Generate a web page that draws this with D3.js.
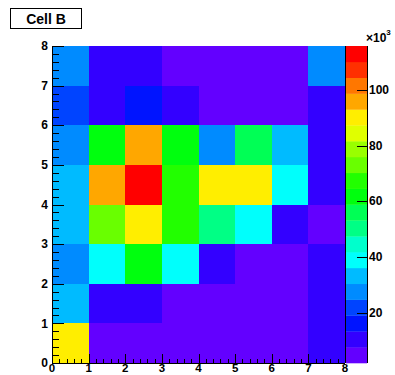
<!DOCTYPE html>
<html>
<head>
<meta charset="utf-8">
<script src="https://cdn.jsdelivr.net/npm/d3@7"></script>
<style>
  html, body { margin: 0; padding: 0; background: #fff; }
  svg { display: block; }
  text { font-family: "Liberation Sans", Arial, Helvetica, sans-serif; font-weight: bold; fill: #000; }
</style>
</head>
<body>
<script>
// ---- data (bin contents in units of 10^3) ----
const title = "Cell B";
const xBins = [0, 1, 2, 3, 4, 5, 6, 7];           // lower edges of x bins
const yBins = [0, 1, 2, 3, 4, 5, 6, 7];           // lower edges of y bins
const xTickLabels = ["0", "1", "2", "3", "4", "5", "6", "7", "8"];
const yTickLabels = ["0", "1", "2", "3", "4", "5", "6", "7", "8"];
const zTickValues = [20, 40, 60, 80, 100];
const zExponentLabel = "\u00d710";
const zExponent = "3";
// rows listed from y bin 0 (bottom) to y bin 7 (top); each row lists x bins 0..7
const row0 = [90.1, 2.9, 1.86, 2.5, 2.7, 3.1, 3.0, 9.6];
const row1 = [33.4, 10.7, 10.2, 3.9, 3.6, 3.4, 3.7, 9.8];
const row2 = [27.2, 39.2, 61.8, 38.7, 10.8, 4.3, 4.1, 10.0];
const row3 = [33.0, 73.0, 90.3, 67.0, 50.5, 38.8, 10.3, 5.5];
const row4 = [33.5, 95.5, 115.8, 67.5, 90.0, 90.5, 39.0, 10.1];
const row5 = [28.0, 61.5, 96.0, 62.0, 27.6, 56.0, 33.0, 10.5];
const row6 = [21.8, 10.0, 16.0, 10.6, 5.2, 4.4, 4.6, 10.2];
const row7 = [27.5, 10.4, 10.9, 4.8, 4.2, 4.5, 5.0, 27.0];
const rows = [row0, row1, row2, row3, row4, row5, row6, row7];

// ---- layout ----
const W = 395, H = 375;
const fx0 = 52, fx1 = 345, fy0 = 46, fy1 = 363;
const px0 = 346, px1 = 367;
const nLevels = 20, nColors = 50;

const svg = d3.select("body").append("svg").attr("width", W).attr("height", H);

const x = d3.scaleLinear().domain([0, 8]).range([fx0, fx1]);
const y = d3.scaleLinear().domain([0, 8]).range([fy1, fy0]);

const cells = [];
rows.forEach((r, j) => r.forEach((v, i) => cells.push({ x: xBins[i], y: yBins[j], v })));
const zExt = d3.extent(cells, d => d.v);
const z = d3.scaleLinear().domain(zExt).range([fy1, fy0]);

// ROOT "pretty" palette (50 colours, hue 280 -> 0)
function paletteColor(k) {
  const hue = 280 - (k + 1) * (280 / nColors);
  return d3.hsl(hue, 1, 0.5).formatHex();
}
function levelColor(level) {
  const k = Math.floor((level + 0.99) * nColors / nLevels);
  return paletteColor(Math.min(k, nColors - 1));
}
function valueLevel(v) {
  let l = Math.floor((v - zExt[0]) / (zExt[1] - zExt[0]) * nLevels);
  return Math.max(0, Math.min(nLevels - 1, l));
}

// ---- cells ----
svg.append("g").selectAll("rect").data(cells).join("rect")
  .attr("x", d => x(d.x))
  .attr("y", d => y(d.y + 1))
  .attr("width", d => x(d.x + 1) - x(d.x))
  .attr("height", d => y(d.y) - y(d.y + 1))
  .attr("fill", d => levelColor(valueLevel(d.v)))
  .attr("shape-rendering", "crispEdges");

// ---- axes ----
const axisG = svg.append("g").attr("stroke", "#000").attr("stroke-width", 1).attr("shape-rendering", "crispEdges");
axisG.append("line").attr("x1", fx0).attr("x2", fx1).attr("y1", fy1 + 0.5).attr("y2", fy1 + 0.5);
axisG.append("line").attr("x1", fx0 + 0.5).attr("x2", fx0 + 0.5).attr("y1", fy0).attr("y2", fy1);

const minorX = d3.range(0, 8.0001, 0.2);
axisG.selectAll(".xt").data(minorX).join("line")
  .attr("x1", d => Math.round(x(d)) + 0.5).attr("x2", d => Math.round(x(d)) + 0.5)
  .attr("y1", fy1)
  .attr("y2", d => Math.abs(d - Math.round(d)) < 1e-6 ? fy1 - 9 : fy1 - 4.5);
const minorY = d3.range(0, 8.0001, 0.2);
axisG.selectAll(".yt").data(minorY).join("line")
  .attr("y1", d => Math.round(y(d)) + 0.5).attr("y2", d => Math.round(y(d)) + 0.5)
  .attr("x1", fx0)
  .attr("x2", d => Math.abs(d - Math.round(d)) < 1e-6 ? fx0 + 12 : fx0 + 6.5);

svg.append("g").selectAll("text").data(xTickLabels).join("text")
  .attr("x", (d, i) => x(i)).attr("y", 371.5)
  .attr("text-anchor", "middle").attr("font-size", 11.5).text(d => d);
svg.append("g").selectAll("text").data(yTickLabels).join("text")
  .attr("x", 48).attr("y", (d, i) => y(i)).attr("dy", "0.35em")
  .attr("text-anchor", "end").attr("font-size", 12).text(d => d);

// ---- palette ----
const levels = d3.range(nLevels);
const lh = (fy1 - fy0) / nLevels;
svg.append("g").selectAll("rect").data(levels).join("rect")
  .attr("x", px0).attr("width", px1 - px0)
  .attr("y", d => fy1 - (d + 1) * lh).attr("height", lh + 0.3)
  .attr("fill", d => levelColor(d));
const palG = svg.append("g").attr("stroke", "#000").attr("shape-rendering", "crispEdges");
palG.append("line").attr("x1", px0 - 0.5).attr("x2", px0 - 0.5).attr("y1", fy0).attr("y2", fy1);
palG.append("line").attr("x1", px1 + 0.5).attr("x2", px1 + 0.5).attr("y1", fy0).attr("y2", fy1);
palG.selectAll(".zt").data(zTickValues).join("line")
  .attr("x1", px1 - 10).attr("x2", px1)
  .attr("y1", d => Math.round(z(d)) + 0.5).attr("y2", d => Math.round(z(d)) + 0.5);
svg.append("g").selectAll("text").data(zTickValues).join("text")
  .attr("x", px1 + 2).attr("y", d => z(d)).attr("dy", "0.35em")
  .attr("font-size", 12).text(d => d);
const ex = svg.append("text").attr("x", 366).attr("y", 42).attr("font-size", 12)
  .attr("font-weight", "normal");
ex.append("tspan").text(zExponentLabel);
ex.append("tspan").attr("font-size", 8).attr("dy", -7).text(zExponent);

// ---- title ----
svg.append("rect").attr("x", 10.5).attr("y", 8.5).attr("width", 71).attr("height", 20)
  .attr("fill", "#fff").attr("stroke", "#000").attr("stroke-width", 1);
svg.append("text").attr("x", 46).attr("y", 19).attr("dy", "0.35em")
  .attr("text-anchor", "middle").attr("font-size", 14).text(title);
</script>
</body>
</html>
